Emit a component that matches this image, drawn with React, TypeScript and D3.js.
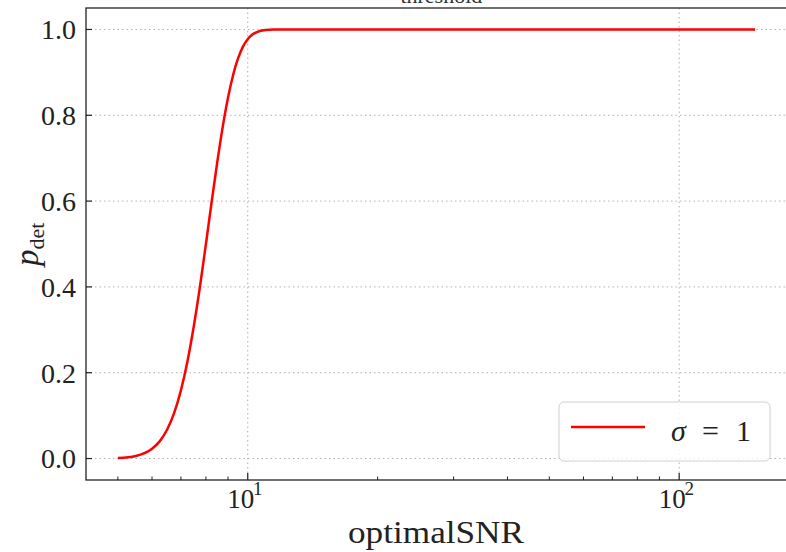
import React from "react";
import * as d3 from "d3";

const snr = [5, 5.5, 6, 6.25, 6.5, 6.75, 7, 7.25, 7.5, 7.75, 8, 8.25, 8.5, 8.75, 9, 9.25, 9.5, 9.75, 10, 10.25, 10.5, 11, 11.5, 12, 15, 20, 50, 100, 150];
const pdet = [0.001, 0.006, 0.023, 0.04, 0.067, 0.106, 0.159, 0.227, 0.309, 0.401, 0.5, 0.599, 0.691, 0.773, 0.841, 0.894, 0.933, 0.96, 0.977, 0.988, 0.994, 0.9987, 0.9998, 1, 1, 1, 1, 1, 1];
const yTicks = [0.0, 0.2, 0.4, 0.6, 0.8, 1.0];
const xMajor = [10, 100];
const xMinor = [5, 6, 7, 8, 9, 20, 30, 40, 50, 60, 70, 80, 90, 200];
const legendLabel = "σ";
const legendEq = "=";
const legendValue = "1";
const xLabel = "optimalSNR";

const W = 786, H = 552;
const M = { left: 86, right: 787, top: 8, bottom: 480 };
const FONT = "'Liberation Serif', 'DejaVu Serif', serif";

export default function App() {
  const lx0 = Math.log10(5), lx1 = Math.log10(150);
  const pad = (lx1 - lx0) * 0.05;
  const x = d3.scaleLog().domain([Math.pow(10, lx0 - pad), Math.pow(10, lx1 + pad)]).range([M.left, M.right]);
  const y = d3.scaleLinear().domain([-0.05, 1.05]).range([M.bottom, M.top]);
  const pts = snr.map((s, i) => [s, pdet[i]] as [number, number]);
  const line = d3.line<[number, number]>().x(d => x(d[0])).y(d => y(d[1])).curve(d3.curveMonotoneX);

  return (
    <svg width={W} height={H} style={{ position: "fixed", left: 0, top: 0, background: "#fff" }} fontFamily={FONT}>
      <rect x={0} y={0} width={W} height={H} fill="#fff" />
      {/* title, mostly cut off */}
      <text x={436} y={-3} textAnchor="middle" fontSize={28} fill="#333">
        SNR<tspan fontSize={22} dy={6}>threshold</tspan><tspan dy={-6}> = 8</tspan>
      </text>
      {/* grid */}
      {yTicks.map(t => (
        <line key={"gy" + t} x1={M.left} x2={M.right} y1={y(t)} y2={y(t)} stroke="#b0b0b0" strokeWidth={1} strokeDasharray="1.5,3" />
      ))}
      {xMajor.map(t => (
        <line key={"gx" + t} x1={x(t)} x2={x(t)} y1={M.top} y2={M.bottom} stroke="#b0b0b0" strokeWidth={1} strokeDasharray="1.5,3" />
      ))}
      {/* curve */}
      <path d={line(pts) || ""} fill="none" stroke="#ff0000" strokeWidth={2.5} />
      {/* spines */}
      <rect x={M.left} y={M.top} width={M.right - M.left} height={M.bottom - M.top} fill="none" stroke="#222" strokeWidth={1.3} />
      {/* y ticks */}
      {yTicks.map(t => (
        <g key={"yt" + t}>
          <line x1={M.left} x2={M.left + 6} y1={y(t)} y2={y(t)} stroke="#222" strokeWidth={1.2} />
          <text x={76} y={y(t)} dy="0.35em" textAnchor="end" fontSize={28} fill="#222">{t.toFixed(1)}</text>
        </g>
      ))}
      {/* x ticks */}
      {xMajor.map(t => (
        <g key={"xt" + t}>
          <line x1={x(t)} x2={x(t)} y1={M.bottom} y2={M.bottom - 7} stroke="#222" strokeWidth={1.2} />
          <text x={x(t) - 7} y={508} textAnchor="middle" fontSize={27} fill="#222">10</text>
          <text x={x(t) + 10} y={495} textAnchor="middle" fontSize={19} fill="#222">{Math.round(Math.log10(t))}</text>
        </g>
      ))}
      {xMinor.map(t => (
        <line key={"xm" + t} x1={x(t)} x2={x(t)} y1={M.bottom} y2={M.bottom - 3.5} stroke="#222" strokeWidth={1} />
      ))}
      {/* labels */}
      <text x={436} y={543} textAnchor="middle" fontSize={31} fill="#222" textLength={176} lengthAdjust="spacingAndGlyphs">{xLabel}</text>
      <text transform="translate(38,266) rotate(-90)" textAnchor="start" fontSize={33} fill="#222">
        <tspan fontStyle="italic">p</tspan><tspan fontSize={22} dy={6}>det</tspan>
      </text>
      {/* legend */}
      <rect x={559} y={402} width={211} height={59} rx={5} fill="#fff" fillOpacity={0.8} stroke="#d0d0d0" strokeWidth={1} />
      <line x1={571} x2={645} y1={427} y2={427} stroke="#ff0000" strokeWidth={2.5} />
      <text y={441} fontSize={30} fill="#222">
        <tspan x={671} fontStyle="italic">{legendLabel}</tspan>
        <tspan x={702}>{legendEq}</tspan>
        <tspan x={736}>{legendValue}</tspan>
      </text>
    </svg>
  );
}
